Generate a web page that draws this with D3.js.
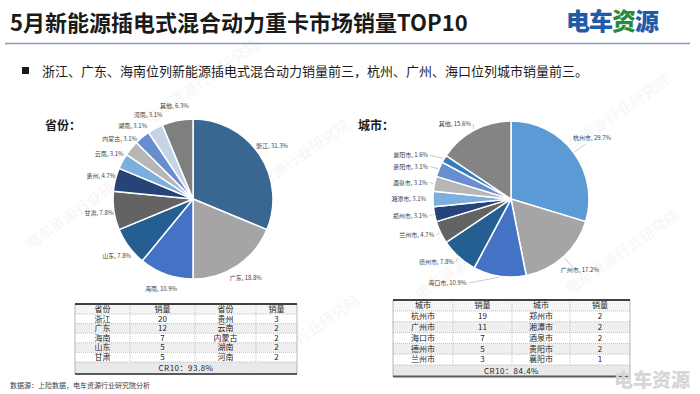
<!DOCTYPE html>
<html><head><meta charset="utf-8">
<script src="https://cdn.jsdelivr.net/npm/d3@7"></script>
<style>
body{margin:0;background:#fff;}
svg{display:block;font-family:"Noto Sans CJK SC","Noto Sans",sans-serif;}
</style>
</head><body>
<svg id="c" width="700" height="394"></svg>
<script>
// ---------- data ----------
const titleText = "5月新能源插电式混合动力重卡市场销量TOP10";
const bulletText = "浙江、广东、海南位列新能源插电式混合动力销量前三，杭州、广州、海口位列城市销量前三。";
const sourceText = "数据源：上险数据，电车资源行业研究院分析";
const provinces = ["浙江","广东","海南","山东","甘肃","贵州","云南","内蒙古","湖南","河南","其他"];
const provinceSales = [20,12,7,5,5,3,2,2,2,2,4];
const cities = ["杭州市","广州市","海口市","德州市","兰州市","郑州市","湘潭市","酒泉市","贵阳市","襄阳市","其他"];
const citySales = [19,11,7,5,3,2,2,2,2,1,10];
const provinceHeaders = ["省份","销量","省份","销量"];
const cityHeaders = ["城市","销量","城市","销量"];
const provinceColors = ["#3a6792","#a5a5a5","#4472c4","#255e91","#636363","#264478","#7cafdd","#b7b7b7","#698ed0","#c5d3e8","#7f7f7f"];
const cityColors = ["#5b9bd5","#a5a5a5","#4472c4","#255e91","#636363","#264478","#7cafdd","#b7b7b7","#698ed0","#327dc2","#848484"];

const svg = d3.select("#c");
const pct = v => (Math.round(v * 1000) / 10).toFixed(1) + "%";

// ---------- watermarks ----------
const wm = svg.append("g").attr("fill", "#000").attr("fill-opacity", 0.05)
  .attr("font-size", 15).attr("font-weight", 700);
[[30,250],[240,205],[150,125],[560,160],[570,295],[420,300],[250,380]].forEach(p => {
  wm.append("text").attr("transform", `translate(${p[0]},${p[1]}) rotate(-35)`).text("电车资源行业研究院");
});

// ---------- header ----------
svg.append("text").attr("x", 10).attr("y", 31).attr("font-size", 22).attr("font-weight", 700)
  .attr("fill", "#1a1a1a").text(titleText);
const logo = svg.append("text").attr("x", 566).attr("y", 30).attr("font-size", 24).attr("font-weight", 900)
  .attr("letter-spacing", -1);
logo.append("tspan").attr("fill", "#1f5ba8").text("电");
logo.append("tspan").attr("fill", "#1f5ba8").text("车");
logo.append("tspan").attr("fill", "#2a8a3c").text("资");
logo.append("tspan").attr("fill", "#1f5ba8").text("源");
svg.append("line").attr("x1", 5).attr("x2", 690).attr("y1", 43.5).attr("y2", 43.5)
  .attr("stroke", "#7f9bc2").attr("stroke-width", 1.5);

svg.append("rect").attr("x", 22).attr("y", 67).attr("width", 7).attr("height", 7).attr("fill", "#1a1a1a");
svg.append("text").attr("x", 42).attr("y", 75.5).attr("font-size", 13).attr("fill", "#1a1a1a").text(bulletText);

svg.append("text").attr("x", 45).attr("y", 130).attr("font-size", 12).attr("font-weight", 700)
  .attr("fill", "#1a1a1a").text("省份：");
svg.append("text").attr("x", 358).attr("y", 130).attr("font-size", 12).attr("font-weight", 700)
  .attr("fill", "#1a1a1a").text("城市：");

// ---------- pies ----------
const pie = d3.pie().sort(null).value(d => d);

function drawPie(cx, cy, r, names, values, colors, mode) {
  const total = d3.sum(values);
  const arcs = pie(values);
  const g = svg.append("g").attr("transform", `translate(${cx},${cy})`);
  const arc = d3.arc().innerRadius(0).outerRadius(r);
  g.selectAll("path").data(arcs).join("path")
    .attr("d", arc).attr("fill", (d, i) => colors[i])
    .attr("stroke", "#fff").attr("stroke-width", 1.5).attr("stroke-linejoin", "round");
  const lg = g.append("g").attr("font-size", 6).attr("fill", "#404040");
  arcs.forEach((d, i) => {
    const a = (d.startAngle + d.endAngle) / 2;
    const s = Math.sin(a), c = -Math.cos(a);
    const label = names[i] + ", " + pct(values[i] / total);
    if (mode === "center") {
      const R = r + 15;
      lg.append("text").attr("x", R * s).attr("y", R * c).attr("dy", "0.35em")
        .attr("text-anchor", "middle").text(label);
    } else {
      const edge = [(r + 1) * s, (r + 1) * c];
      if (s < 0) {
        const R = r + 7;
        const y = R * c;
        let xEnd = R * s;
        if (y > -60) xEnd = Math.min(xEnd, -(r + 5) + Math.max(0, y - 20) * 0.6);
        const anchor = [xEnd + 2, y];
        if (Math.hypot(anchor[0] - edge[0], anchor[1] - edge[1]) > 4) {
          lg.append("line").attr("x1", edge[0]).attr("y1", edge[1])
            .attr("x2", anchor[0]).attr("y2", anchor[1])
            .attr("stroke", "#a6a6a6").attr("stroke-width", 0.6);
        }
        lg.append("text").attr("x", xEnd).attr("y", y).attr("dy", "0.35em")
          .attr("text-anchor", "end").text(label);
      } else {
        const R = r + 14;
        const P = [R * s, R * c];
        lg.append("line").attr("x1", edge[0]).attr("y1", edge[1])
          .attr("x2", P[0]).attr("y2", P[1])
          .attr("stroke", "#a6a6a6").attr("stroke-width", 0.6);
        lg.append("text").attr("x", P[0] - 12).attr("y", P[1] + (c < 0 ? -6 : 3)).attr("dy", "0.35em")
          .attr("text-anchor", "start").text(label);
      }
    }
  });
}
drawPie(193, 199, 80, provinces, provinceSales, provinceColors, "center");
drawPie(511, 199, 78, cities, citySales, cityColors, "leader");

// ---------- tables ----------
function drawTable(cols, top, headH, rowH, crH, headers, names, values) {
  const total = d3.sum(values);
  const cr10 = d3.sum(values.slice(0, 10)) / total;
  const g = svg.append("g").attr("font-size", 8).attr("fill", "#262626");
  const x0 = cols[0], x1 = cols[cols.length - 1];
  const rows = d3.range(5).map(i => [names[i], values[i], names[i + 5], values[i + 5]]);
  const bottom = top + headH + rowH * 5 + crH;
  g.append("rect").attr("x", x0).attr("y", top).attr("width", x1 - x0).attr("height", headH).attr("fill", "#f5f5f5");
  rows.forEach((r, i) => {
    g.append("rect").attr("x", x0).attr("y", top + headH + i * rowH).attr("width", x1 - x0).attr("height", rowH)
      .attr("fill", i % 2 ? "#efefef" : "#ffffff");
  });
  g.append("rect").attr("x", x0).attr("y", top + headH + 5 * rowH).attr("width", x1 - x0).attr("height", crH).attr("fill", "#e9e9e9");
  const grid = g.append("g").attr("stroke", "#9a9a9a").attr("stroke-width", 0.6).attr("stroke-dasharray", "1,1");
  d3.range(6).forEach(i => {
    const y = top + headH + i * rowH;
    grid.append("line").attr("x1", x0).attr("x2", x1).attr("y1", y).attr("y2", y);
  });
  cols.slice(1, -1).forEach(x => {
    grid.append("line").attr("x1", x).attr("x2", x).attr("y1", top).attr("y2", top + headH + 5 * rowH);
  });
  [x0, x1].forEach(x => {
    g.append("line").attr("x1", x).attr("x2", x).attr("y1", top).attr("y2", bottom)
      .attr("stroke", "#8c8c8c").attr("stroke-width", 0.6);
  });
  g.append("line").attr("x1", x0).attr("x2", x1).attr("y1", top).attr("y2", top).attr("stroke", "#404040").attr("stroke-width", 2);
  g.append("line").attr("x1", x0).attr("x2", x1).attr("y1", bottom).attr("y2", bottom).attr("stroke", "#595959").attr("stroke-width", 2);
  const cx = d3.range(4).map(i => (cols[i] + cols[i + 1]) / 2);
  headers.forEach((h, i) => {
    g.append("text").attr("x", cx[i]).attr("y", top + headH / 2).attr("dy", "0.35em").attr("text-anchor", "middle").text(h);
  });
  rows.forEach((r, j) => r.forEach((v, i) => {
    g.append("text").attr("x", cx[i]).attr("y", top + headH + j * rowH + rowH / 2).attr("dy", "0.35em")
      .attr("text-anchor", "middle").text(v);
  }));
  g.append("text").attr("x", (x0 + x1) / 2).attr("y", top + headH + 5 * rowH + crH / 2).attr("dy", "0.35em")
    .attr("text-anchor", "middle").attr("letter-spacing", 0.5).text("CR10：" + pct(cr10));
}
drawTable([75, 130, 195, 256, 297], 304, 10, 9.6, 12, provinceHeaders, provinces, provinceSales);
drawTable([393, 453, 512, 570, 630], 300, 11, 10.8, 11.5, cityHeaders, cities, citySales);

// ---------- footer ----------
svg.append("text").attr("x", 10).attr("y", 388).attr("font-size", 7).attr("fill", "#404040").text(sourceText);
svg.append("text").attr("x", 614).attr("y", 387).attr("font-size", 19).attr("font-weight", 900)
  .attr("fill", "#d6d6d6").text("电车资源");
</script>
</body></html>
